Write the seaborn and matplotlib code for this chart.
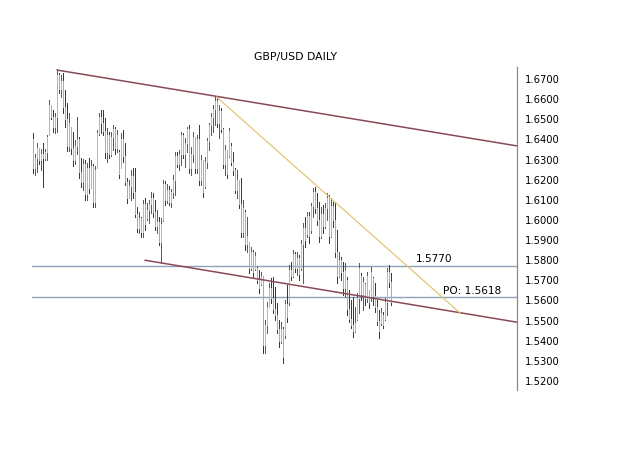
import numpy as np
import pandas as pd
import seaborn as sns
import matplotlib
matplotlib.use("Agg")
import matplotlib.pyplot as plt

# daily bars (high, low, open, close)
highs = [1.643, 1.633, 1.638, 1.636, 1.6355, 1.638, 1.6355, 1.642, 1.6595, 1.657,
         1.6545, 1.653, 1.675, 1.673, 1.672, 1.673, 1.6645, 1.658, 1.653, 1.646,
         1.6435, 1.6395, 1.651, 1.641, 1.631, 1.6305, 1.630, 1.6285, 1.631, 1.630,
         1.628, 1.627, 1.6445, 1.653, 1.6545, 1.6545, 1.6505, 1.6455, 1.6435, 1.6435,
         1.647, 1.646, 1.6445, 1.635, 1.643, 1.6445, 1.638, 1.621, 1.620, 1.625,
         1.626, 1.626, 1.6065, 1.604, 1.6015, 1.610, 1.611, 1.6085, 1.610, 1.614,
         1.6135, 1.610, 1.605, 1.6015, 1.601, 1.620, 1.6195, 1.618, 1.617, 1.6155,
         1.6223, 1.6338, 1.6338, 1.6348, 1.6437, 1.6432, 1.6407, 1.6462, 1.6472, 1.6363,
         1.6437, 1.6397, 1.6422, 1.6472, 1.6323, 1.6288, 1.6313, 1.6407, 1.6482, 1.6531,
         1.6571, 1.6615, 1.6606, 1.6571, 1.6556, 1.6457, 1.6372, 1.6348, 1.6457, 1.6382,
         1.6338, 1.6258, 1.6248, 1.6198, 1.6208, 1.6099, 1.6049, 1.6014, 1.5890, 1.5865,
         1.5850, 1.5841, 1.5766, 1.5751, 1.5741, 1.5716, 1.5503, 1.5592, 1.5687, 1.5711,
         1.5716, 1.5667, 1.5587, 1.5503, 1.5493, 1.5468, 1.5602, 1.5677, 1.5776, 1.5791,
         1.5850, 1.5841, 1.5841, 1.5826, 1.5900, 1.5985, 1.6014, 1.6039, 1.6039, 1.6084,
         1.6159, 1.6164, 1.6134, 1.6089, 1.6064, 1.6074, 1.6084, 1.6134, 1.6124, 1.6109,
         1.6089, 1.6084, 1.5950, 1.5841, 1.5816, 1.5791, 1.5786, 1.5716, 1.5652, 1.5602,
         1.5617, 1.5567, 1.5637, 1.5786, 1.5736, 1.5716, 1.5687, 1.5741, 1.5652, 1.5766,
         1.5716, 1.5687, 1.5602, 1.5552, 1.5562, 1.5542, 1.5612, 1.5761, 1.5776, 1.5736]
lows = [1.6235, 1.6225, 1.624, 1.628, 1.625, 1.6165, 1.630, 1.630, 1.642, 1.650,
        1.6435, 1.643, 1.6435, 1.663, 1.661, 1.653, 1.646, 1.6345, 1.6345, 1.633,
        1.627, 1.628, 1.633, 1.621, 1.6165, 1.615, 1.610, 1.610, 1.6135, 1.6165,
        1.6065, 1.6065, 1.626, 1.642, 1.643, 1.642, 1.631, 1.629, 1.631, 1.632,
        1.635, 1.633, 1.634, 1.621, 1.626, 1.629, 1.6175, 1.6085, 1.611, 1.610,
        1.611, 1.6015, 1.594, 1.5935, 1.5915, 1.5915, 1.595, 1.600, 1.5985, 1.6035,
        1.6015, 1.595, 1.5935, 1.5875, 1.5785, 1.5995, 1.6075, 1.6085, 1.6075, 1.6065,
        1.611, 1.6124, 1.6263, 1.6248, 1.6273, 1.6308, 1.6263, 1.6338, 1.6233, 1.6223,
        1.6288, 1.6233, 1.6233, 1.6174, 1.6174, 1.6114, 1.6159, 1.6258, 1.6348, 1.6422,
        1.6437, 1.6472, 1.6462, 1.6407, 1.6437, 1.6258, 1.6223, 1.6208, 1.6313, 1.6273,
        1.6223, 1.6134, 1.6109, 1.6059, 1.5915, 1.5915, 1.5850, 1.5841, 1.5736, 1.5751,
        1.5711, 1.5751, 1.5687, 1.5637, 1.5677, 1.5338, 1.5338, 1.5438, 1.5567, 1.5587,
        1.5537, 1.5503, 1.5438, 1.5368, 1.5388, 1.5289, 1.5413, 1.5493, 1.5577, 1.5701,
        1.5716, 1.5741, 1.5726, 1.5701, 1.5751, 1.5687, 1.5865, 1.5915, 1.5885, 1.5935,
        1.6014, 1.6034, 1.5975, 1.5890, 1.5910, 1.5935, 1.5960, 1.5999, 1.5885, 1.5915,
        1.5965, 1.5816, 1.5687, 1.5716, 1.5701, 1.5627, 1.5617, 1.5527, 1.5493, 1.5463,
        1.5418, 1.5443, 1.5503, 1.5537, 1.5602, 1.5552, 1.5577, 1.5592, 1.5562, 1.5597,
        1.5577, 1.5542, 1.5478, 1.5413, 1.5478, 1.5463, 1.5503, 1.5527, 1.5667, 1.5577]
opens = [1.640, 1.626, 1.631, 1.636, 1.630, 1.633, 1.631, 1.634, 1.642, 1.657,
         1.651, 1.646, 1.651, 1.672, 1.665, 1.669, 1.656, 1.650, 1.637, 1.646,
         1.636, 1.630, 1.637, 1.640, 1.624, 1.619, 1.628, 1.613, 1.626, 1.616,
         1.627, 1.609, 1.626, 1.643, 1.651, 1.648, 1.644, 1.634, 1.642, 1.633,
         1.641, 1.645, 1.636, 1.634, 1.626, 1.640, 1.632, 1.619, 1.611, 1.617,
         1.622, 1.614, 1.603, 1.596, 1.601, 1.594, 1.608, 1.601, 1.605, 1.608,
         1.611, 1.604, 1.597, 1.599, 1.589, 1.600, 1.618, 1.610, 1.615, 1.609,
         1.614, 1.620, 1.632, 1.628, 1.633, 1.642, 1.633, 1.638, 1.645, 1.626,
         1.633, 1.641, 1.626, 1.640, 1.620, 1.630, 1.617, 1.629, 1.639, 1.647,
         1.651, 1.655, 1.659, 1.648, 1.654, 1.645, 1.628, 1.635, 1.632, 1.637,
         1.629, 1.625, 1.615, 1.620, 1.608, 1.594, 1.604, 1.588, 1.589, 1.576,
         1.584, 1.5755, 1.576, 1.570, 1.568, 1.572, 1.538, 1.548, 1.557, 1.566,
         1.561, 1.556, 1.553, 1.546, 1.540, 1.546, 1.543, 1.558, 1.559, 1.575,
         1.572, 1.583, 1.576, 1.581, 1.576, 1.588, 1.596, 1.593, 1.602, 1.595,
         1.607, 1.614, 1.606, 1.600, 1.592, 1.603, 1.597, 1.606, 1.611, 1.592,
         1.607, 1.600, 1.584, 1.572, 1.580, 1.574, 1.566, 1.570, 1.556, 1.551,
         1.548, 1.545, 1.551, 1.561, 1.572, 1.563, 1.568, 1.561, 1.565, 1.561,
         1.571, 1.562, 1.557, 1.550, 1.549, 1.553, 1.551, 1.559, 1.574, 1.569]
closes = [1.626, 1.631, 1.636, 1.630, 1.633, 1.631, 1.634, 1.641, 1.657, 1.651,
          1.646, 1.651, 1.672, 1.665, 1.669, 1.656, 1.650, 1.637, 1.648, 1.636,
          1.630, 1.637, 1.640, 1.624, 1.619, 1.628, 1.613, 1.626, 1.616, 1.627,
          1.609, 1.625, 1.643, 1.651, 1.648, 1.644, 1.634, 1.642, 1.633, 1.641,
          1.645, 1.636, 1.642, 1.623, 1.640, 1.632, 1.619, 1.611, 1.617, 1.622,
          1.614, 1.603, 1.596, 1.601, 1.594, 1.608, 1.598, 1.605, 1.608, 1.611,
          1.604, 1.597, 1.599, 1.589, 1.598, 1.618, 1.610, 1.615, 1.609, 1.614,
          1.620, 1.632, 1.628, 1.633, 1.642, 1.633, 1.638, 1.645, 1.626, 1.633,
          1.641, 1.626, 1.640, 1.620, 1.630, 1.614, 1.629, 1.639, 1.647, 1.651,
          1.655, 1.659, 1.648, 1.654, 1.645, 1.628, 1.635, 1.623, 1.644, 1.629,
          1.625, 1.615, 1.620, 1.608, 1.594, 1.606, 1.588, 1.592, 1.576, 1.584,
          1.574, 1.582, 1.570, 1.566, 1.572, 1.538, 1.548, 1.557, 1.566, 1.561,
          1.556, 1.553, 1.546, 1.540, 1.546, 1.532, 1.558, 1.552, 1.575, 1.572,
          1.583, 1.576, 1.581, 1.573, 1.588, 1.596, 1.590, 1.602, 1.592, 1.607,
          1.614, 1.606, 1.600, 1.592, 1.603, 1.597, 1.606, 1.611, 1.592, 1.607,
          1.600, 1.584, 1.572, 1.580, 1.574, 1.566, 1.575, 1.556, 1.551, 1.548,
          1.545, 1.549, 1.561, 1.576, 1.563, 1.569, 1.561, 1.572, 1.559, 1.574,
          1.562, 1.557, 1.550, 1.545, 1.554, 1.548, 1.559, 1.574, 1.569, 1.559]

# trend lines (bar index, price)
upper_x = [12, 242]
upper_y = [1.6745, 1.6368]
lower_x = [56, 242]
lower_y = [1.5800, 1.5492]
fast_x = [91.8, 213.5]
fast_y = [1.6611, 1.5538]
levels = [1.5770, 1.5618]
tick_vals = [1.52, 1.53, 1.54, 1.55, 1.56, 1.57, 1.58, 1.59, 1.60,
             1.61, 1.62, 1.63, 1.64, 1.65, 1.66, 1.67]

df = pd.DataFrame({"high": highs, "low": lows, "open": opens, "close": closes})
df["day"] = np.arange(len(df))
df["up"] = df["close"] >= df["open"]

sns.set_style("white")
plt.rcParams["font.family"] = ["DejaVu Sans"]
plt.rcParams["text.color"] = "black"

fig = plt.figure(figsize=(6.25, 4.69), dpi=100)
ax = fig.add_axes([0.0512, 0.1684, 0.776, 0.6887])

dark = df["up"].map({True: "#2b7a38", False: "#5a2a31"})
light = df["up"].map({True: "#8fd48a", False: "#d49aa3"})

for lv in levels:
    ax.axhline(lv, color="#8ea2b8", lw=1.0, zorder=1)

ax.vlines(df["day"], df["low"], df["high"], colors=dark, lw=0.55,
          antialiased=False, zorder=2)
ax.vlines(df["day"], df["open"], df["close"], colors=light, lw=0.55,
          antialiased=False, zorder=3)

sns.lineplot(x=upper_x, y=upper_y, ax=ax, color="#8a4a55", lw=1.1, zorder=4)
sns.lineplot(x=lower_x, y=lower_y, ax=ax, color="#8a4a55", lw=1.1, zorder=4)
sns.lineplot(x=fast_x, y=fast_y, ax=ax, color="#e3c675", lw=0.9, zorder=4)

ax.text(191.5, 1.5806, "1.5770", fontsize=7.6, ha="left", va="center", color="black")
ax.text(205, 1.5647, "PO: 1.5618", fontsize=7.6, ha="left", va="center", color="black")

ax.set_xlim(-0.5, 242)
ax.set_ylim(1.5155, 1.6760)
ax.yaxis.tick_right()
ax.set_yticks(tick_vals)
ax.set_yticklabels([f"{v:.4f}" for v in tick_vals], fontsize=7.2, color="black")
ax.tick_params(axis="y", length=0, pad=6)
ax.set_xticks([])
for side in ["left", "top", "bottom"]:
    ax.spines[side].set_visible(False)
ax.spines["right"].set_color("#8a8a8a")
ax.spines["right"].set_linewidth(0.9)

fig.text(295 / 625, 1 - 57 / 469, "GBP/USD DAILY", fontsize=7.8,
         ha="center", va="center", color="black")

fig.savefig("out.png", dpi=100)
